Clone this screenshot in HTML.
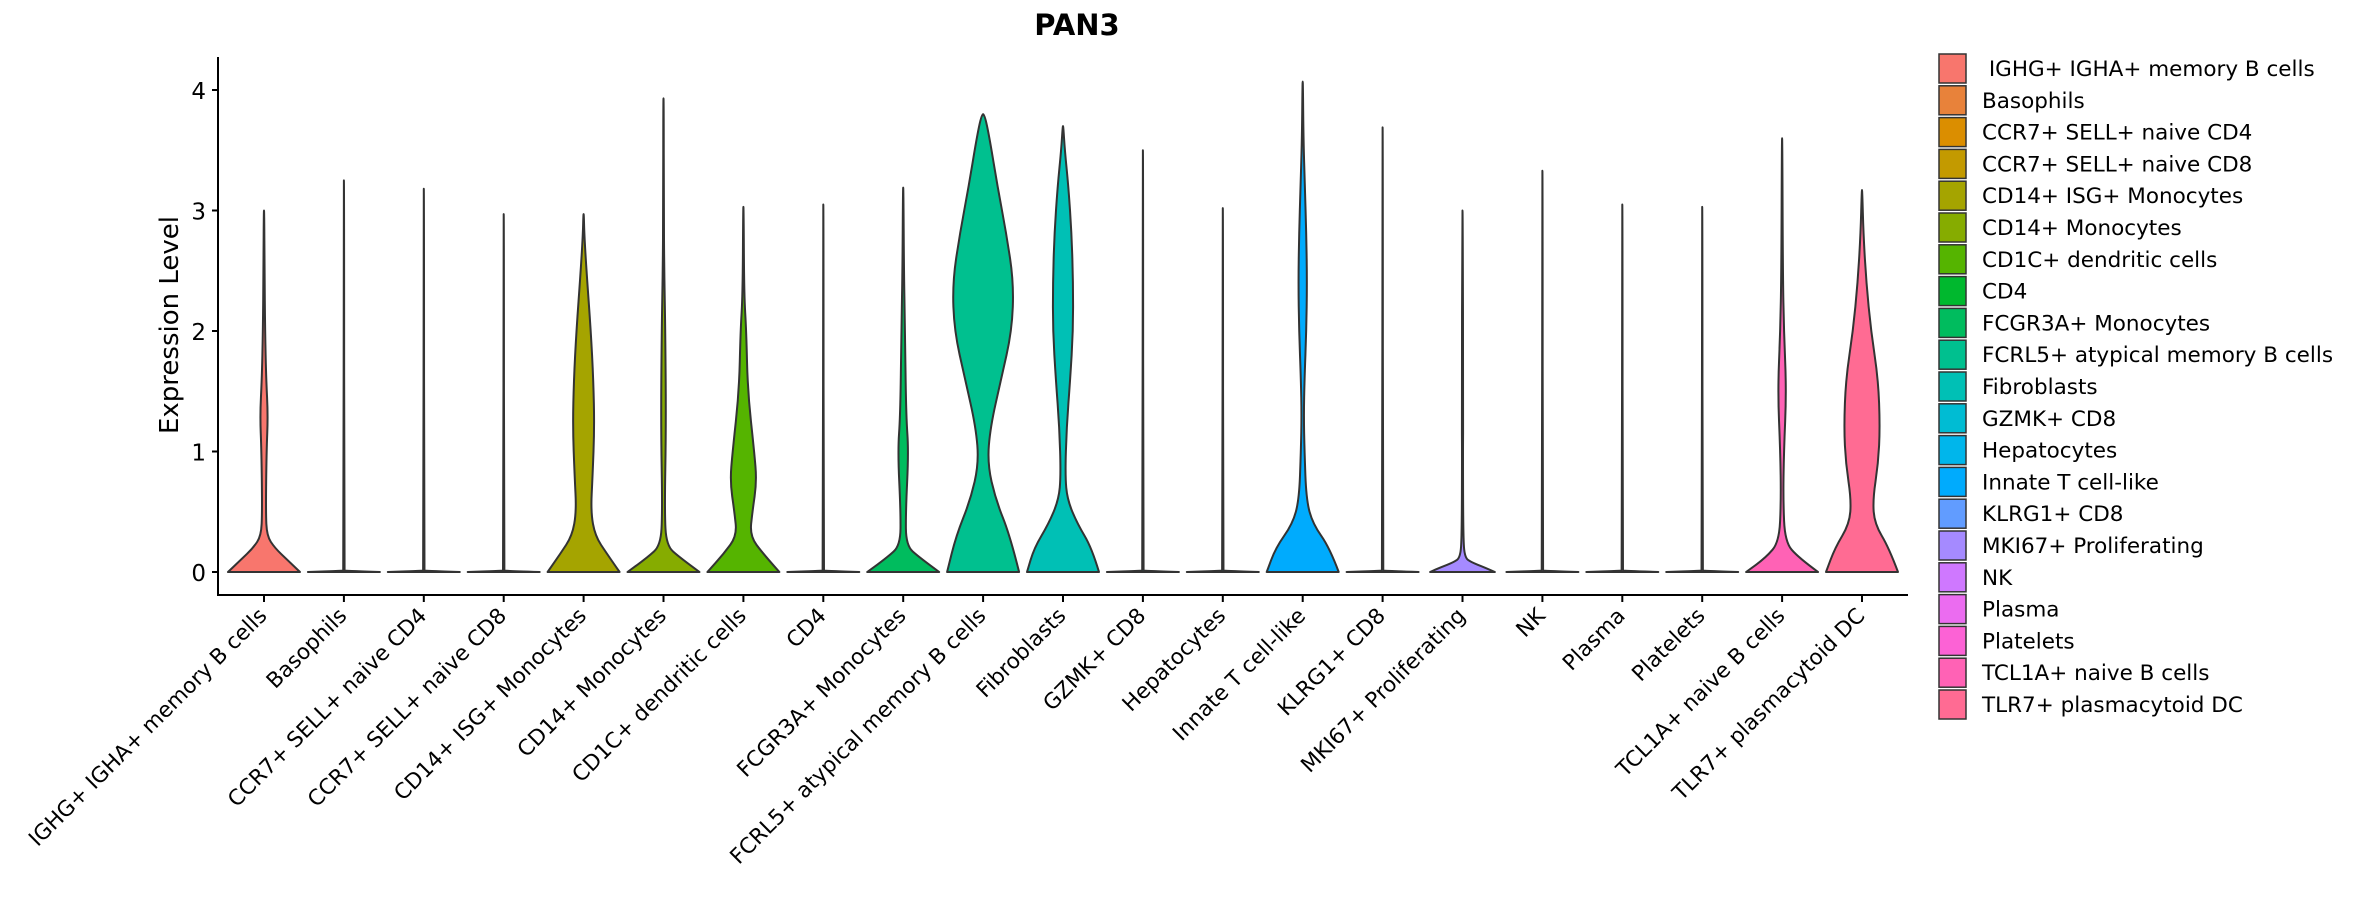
<!DOCTYPE html>
<html><head><meta charset="utf-8"><style>
html,body{margin:0;padding:0;background:#fff;}
svg{display:block;font-family:"DejaVu Sans","Liberation Sans",sans-serif;}
</style></head><body>
<svg id="chart" width="2362" height="900" viewBox="0 0 2362 900" xmlns="http://www.w3.org/2000/svg">
<text x="1077" y="35" text-anchor="middle" font-size="29" font-weight="bold">PAN3</text>
<text transform="translate(178,325) rotate(-90)" text-anchor="middle" font-size="26">Expression Level</text>
<g id="plot"></g>
<g id="legend"></g>
</svg>
<script>
const categories=["IGHG+ IGHA+ memory B cells","Basophils","CCR7+ SELL+ naive CD4","CCR7+ SELL+ naive CD8","CD14+ ISG+ Monocytes","CD14+ Monocytes","CD1C+ dendritic cells","CD4","FCGR3A+ Monocytes","FCRL5+ atypical memory B cells","Fibroblasts","GZMK+ CD8","Hepatocytes","Innate T cell-like","KLRG1+ CD8","MKI67+ Proliferating","NK","Plasma","Platelets","TCL1A+ naive B cells","TLR7+ plasmacytoid DC"];
const colors=["#F8766D","#E8823A","#DB8E00","#C39A00","#A5A400","#86AC00","#55B400","#00B82E","#00BC5E","#00C08F","#00C0B5","#00BCD3","#00B6EB","#00ABFD","#619CFF","#A58AFF","#CF78FF","#EB6CF0","#FC62D5","#FF62B5","#FF6B93"];
const maxValues=[3.0,3.25,3.18,2.97,2.97,3.93,3.03,3.05,3.19,3.8,3.7,3.5,3.02,4.07,3.69,3.0,3.33,3.05,3.03,3.6,3.17];
const flatLevels=[0,0.01,0.02];
const flatWidths=[1,0.03,0.008];
const levels=[
[0,0.1,0.2,0.3,0.5,1.0,1.3,1.6,2.0,2.5,3.0],
null,null,null,
[0,0.15,0.3,0.5,0.8,1.2,1.6,2.0,2.5,2.8,2.97],
[0,0.12,0.22,0.5,1.2,2.0,2.5,3.0,3.93],
[0,0.15,0.3,0.5,0.75,1.0,1.5,2.0,2.3,3.03],
null,
[0,0.12,0.22,0.5,1.0,1.3,2.0,2.5,3.19],
[0,0.3,0.6,0.9,1.2,1.6,2.0,2.4,2.8,3.2,3.6,3.8],
[0,0.2,0.4,0.6,0.8,1.2,1.6,2.0,2.4,2.8,3.2,3.5,3.7],
null,null,
[0,0.2,0.4,0.6,1.0,1.3,1.6,2.0,2.4,2.8,3.2,3.6,4.07],
null,
[0,0.04,0.08,0.12,0.3,1.0,1.3,3.0],
null,null,null,
[0,0.12,0.25,0.6,1.0,1.5,2.0,2.5,3.6],
[0,0.2,0.4,0.6,0.9,1.2,1.6,2.0,2.4,2.8,3.17]
];
const widths=[
[1,0.65,0.3,0.08,0.05,0.07,0.11,0.06,0.03,0.015,0.006],
null,null,null,
[1,0.65,0.32,0.2,0.25,0.3,0.27,0.2,0.08,0.02,0.006],
[1,0.45,0.08,0.03,0.07,0.05,0.02,0.008,0.006],
[1,0.55,0.18,0.25,0.37,0.3,0.12,0.08,0.02,0.006],
null,
[1,0.45,0.08,0.07,0.15,0.08,0.05,0.02,0.006],
[1,0.75,0.35,0.12,0.2,0.5,0.8,0.85,0.65,0.4,0.18,0.04],
[1,0.8,0.4,0.12,0.06,0.1,0.2,0.28,0.28,0.24,0.15,0.05,0.008],
null,null,
[1,0.75,0.28,0.1,0.05,0.03,0.05,0.1,0.12,0.1,0.06,0.02,0.006],
null,
[0.9,0.6,0.25,0.06,0.02,0.012,0.02,0.006],
null,null,null,
[1,0.45,0.08,0.03,0.05,0.12,0.05,0.02,0.006],
[1,0.75,0.35,0.3,0.45,0.5,0.45,0.25,0.12,0.04,0.006]
];
const yTicks=[0,1,2,3,4];
const NS="http://www.w3.org/2000/svg";
const plotL=218,plotR=1908,plotT=57,plotB=595;
const x0=264,step=79.9,halfW=36;
function xScale(i){return x0+i*step;}
function yScale(v){return 572-v*120.5;}
function mk(tag,attrs,parent){const e=document.createElementNS(NS,tag);for(const k in attrs)e.setAttribute(k,attrs[k]);parent.appendChild(e);return e;}
const plot=document.getElementById('plot');
const ax=mk('path',{d:`M${plotL},${plotT} V${plotB} H${plotR}`,fill:'none',stroke:'#000','stroke-width':2},plot);


yTicks.forEach(t=>{
  const y=yScale(t);
  const tk=mk('line',{x1:plotL-6,x2:plotL,y1:y,y2:y,stroke:'#000','stroke-width':2},plot);
  
  
  const lb=mk('text',{x:plotL-12,y:y+9,'text-anchor':'end','font-size':23},plot);
  lb.textContent=t;
  
  
});
categories.forEach((c,i)=>{
  const x=xScale(i);
  let lv=levels[i],wd=widths[i];
  if(!lv){lv=flatLevels.concat([maxValues[i]]);wd=flatWidths.concat([0.006]);}
  else{lv=lv.slice();lv[lv.length-1]=maxValues[i];}
  let right=[],left=[];
  for(let k=0;k<lv.length;k++){
    right.push([x+wd[k]*halfW,yScale(lv[k])]);
    left.push([x-wd[k]*halfW,yScale(lv[k])]);
  }
  const pts=right.concat(left.reverse());
  let d='M'+pts[0][0]+','+pts[0][1];
  for(let k=1;k<pts.length-1;k++){
    const mx=(pts[k][0]+pts[k+1][0])/2,my=(pts[k][1]+pts[k+1][1])/2;
    d+=` Q${pts[k][0]},${pts[k][1]} ${mx},${my}`;
  }
  d+=` L${pts[pts.length-1][0]},${pts[pts.length-1][1]} Z`;
  const v=mk('path',{d:d,fill:colors[i],stroke:'#333','stroke-width':2,'stroke-linejoin':'round'},plot);
  
  
  const tk=mk('line',{x1:x,x2:x,y1:plotB,y2:plotB+7,stroke:'#000','stroke-width':2},plot);
  
  
  const lb=mk('text',{x:x+4,y:plotB+22,'text-anchor':'end','font-size':21.5,transform:`rotate(-45 ${x+4} ${plotB+22})`},plot);
  lb.textContent=c;
  
  
});
const leg=document.getElementById('legend');
categories.forEach((c,i)=>{
  const y=54+i*31.8;
  const r=mk('rect',{x:1939,y:y,width:27,height:29,fill:colors[i],stroke:'#333','stroke-width':1.5},leg);
  
  
  const t=mk('text',{x:1982,y:y+22,'font-size':21.5},leg);
  t.textContent=(i===0?'\u00a0':'')+c;
  
  
});
</script>
</body></html>
